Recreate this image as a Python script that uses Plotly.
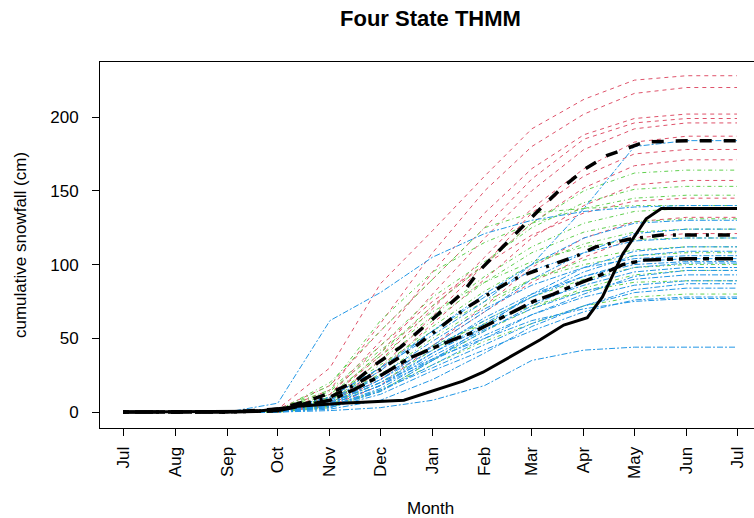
import plotly.graph_objects as go

# ---- data ----
month_labels = ["Jul", "Aug", "Sep", "Oct", "Nov", "Dec", "Jan", "Feb", "Mar", "Apr", "May", "Jun", "Jul"]
month_days = [0, 31, 62, 92, 123, 153, 184, 215, 243, 274, 304, 335, 365]

# simulated paths, values at month_days (cm)
red_paths = [
    [0, 0, 0, 2, 30, 87, 123, 160, 192, 212, 225, 228, 228],
    [0, 0, 0, 1, 15, 60, 108, 150, 180, 202, 216, 220, 220],
    [0, 0, 0, 1, 12, 48, 95, 135, 165, 188, 199, 202, 202],
    [0, 0, 0, 2, 18, 55, 90, 125, 158, 185, 196, 199, 199],
    [0, 0, 0, 1, 10, 40, 80, 118, 150, 178, 192, 196, 196],
    [0, 0, 0, 1, 8, 35, 70, 105, 138, 165, 183, 187, 187],
    [0, 0, 0, 1, 10, 38, 72, 100, 128, 152, 167, 171, 171],
    [0, 0, 0, 0, 6, 28, 60, 90, 118, 140, 154, 157, 157],
    [0, 0, 0, 0, 5, 22, 45, 68, 88, 105, 118, 121, 121],
    [0, 0, 0, 1, 12, 45, 75, 100, 120, 135, 143, 145, 145],
    [0, 0, 0, 0, 4, 18, 45, 72, 98, 118, 129, 132, 132],
    [0, 0, 0, 1, 6, 30, 65, 100, 135, 160, 175, 178, 178],
]
green_paths = [
    [0, 0, 0, 1, 10, 40, 72, 100, 128, 150, 162, 164, 164],
    [0, 0, 0, 2, 15, 45, 78, 102, 125, 142, 151, 153, 153],
    [0, 0, 0, 1, 18, 62, 95, 115, 128, 138, 145, 147, 147],
    [0, 0, 0, 1, 20, 55, 90, 125, 135, 138, 140, 140, 140],
    [0, 0, 0, 1, 8, 30, 58, 82, 100, 114, 122, 124, 124],
    [0, 0, 0, 0, 6, 25, 50, 72, 90, 103, 110, 112, 112],
    [0, 0, 0, 1, 10, 32, 55, 75, 90, 100, 106, 108, 108],
    [0, 0, 0, 0, 5, 20, 42, 62, 78, 90, 98, 100, 100],
    [0, 0, 0, 1, 8, 26, 45, 60, 72, 82, 88, 89, 89],
    [0, 0, 0, 0, 4, 15, 32, 48, 60, 72, 78, 80, 80],
    [0, 0, 0, 1, 12, 38, 65, 92, 112, 128, 136, 138, 138],
    [0, 0, 0, 1, 14, 42, 68, 88, 102, 112, 117, 118, 118],
    [0, 0, 0, 0, 3, 14, 35, 55, 70, 84, 93, 96, 96],
    [0, 0, 0, 1, 9, 35, 62, 88, 108, 122, 129, 131, 131],
]
blue_paths = [
    [0, 0, 0, 6, 62, 81, 105, 121, 130, 136, 139, 140, 140],
    [0, 0, 0, 2, 10, 30, 52, 75, 100, 138, 180, 184, 184],
    [0, 0, 0, 1, 8, 28, 55, 80, 100, 118, 128, 130, 130],
    [0, 0, 0, 1, 6, 22, 45, 68, 90, 108, 121, 124, 124],
    [0, 0, 0, 0, 5, 18, 40, 60, 78, 95, 106, 109, 109],
    [0, 0, 0, 1, 7, 24, 44, 62, 78, 92, 102, 104, 104],
    [0, 0, 0, 0, 4, 16, 36, 55, 72, 88, 98, 101, 101],
    [0, 0, 0, 1, 6, 20, 40, 58, 74, 86, 95, 98, 98],
    [0, 0, 0, 0, 3, 14, 32, 50, 66, 80, 92, 96, 96],
    [0, 0, 0, 1, 5, 18, 35, 52, 66, 78, 86, 89, 89],
    [0, 0, 0, 0, 4, 15, 30, 46, 60, 72, 81, 84, 84],
    [0, 0, 0, 0, 3, 12, 28, 42, 55, 68, 76, 78, 78],
    [0, 0, 0, 1, 6, 20, 36, 50, 62, 70, 75, 77, 77],
    [0, 0, 0, 0, 1, 3, 8, 18, 35, 42, 44, 44, 44],
    [0, 0, 0, 1, 10, 30, 55, 78, 96, 108, 116, 118, 118],
    [0, 0, 0, 1, 8, 25, 48, 70, 86, 98, 104, 106, 106],
    [0, 0, 0, 0, 5, 18, 38, 56, 70, 82, 90, 93, 93],
    [0, 0, 0, 1, 6, 22, 42, 64, 80, 92, 100, 102, 102],
    [0, 0, 0, 0, 2, 8, 22, 40, 58, 72, 83, 87, 87],
    [0, 0, 0, 1, 4, 14, 35, 58, 80, 98, 109, 112, 112],
]

# observed season (solid black)
obs_days = [0, 62, 80, 104, 130, 167, 188, 202, 214, 234, 248, 262, 276, 285, 297, 311, 320, 365]
obs_vals = [0, 0, 0.5, 4, 6, 8, 16, 21, 27, 40, 49, 59, 64, 78, 107, 131, 138, 138]

# state means
red_mean_days = [0, 62, 92, 111, 123, 137, 151, 165, 178, 190, 202, 212, 225, 237, 249, 261, 275, 288, 310, 335, 365]
red_mean_vals = [0, 0, 2, 8, 13, 20, 33, 44, 57, 69, 81, 96, 111, 125, 139, 152, 165, 174, 183, 184, 184]
green_mean_days = [0, 62, 92, 123, 137, 152, 171, 188, 196, 206, 226, 236, 248, 270, 281, 300, 320, 365]
green_mean_vals = [0, 0, 1, 10, 18, 28, 42, 57, 64, 72, 86, 92, 97, 106, 112, 117, 120, 120]
blue_mean_days = [0, 62, 92, 123, 137, 152, 171, 188, 196, 208, 220, 232, 244, 256, 268, 284, 297, 310, 335, 365]
blue_mean_vals = [0, 0, 1, 8, 15, 24, 37, 45, 49, 54, 61, 68, 75, 80, 86, 93, 100, 103, 104, 104]

y_ticks = [0, 50, 100, 150, 200]

# ---- styles ----
RED, GREEN, BLUE = "#DF536B", "#61D04F", "#2297E6"
FONT = "Liberation Sans, Arial, Helvetica, sans-serif"

fig = go.Figure()

def add_group(paths, color, dash):
    for p in paths:
        fig.add_trace(go.Scatter(x=month_days, y=p, mode="lines",
                                 line=dict(color=color, width=1, dash=dash),
                                 hoverinfo="skip", showlegend=False))

add_group(red_paths, RED, "4px,4px")
add_group(green_paths, GREEN, "1px,3px,4px,3px")
add_group(blue_paths, BLUE, "2px,2px,6px,2px")

fig.add_trace(go.Scatter(x=obs_days, y=obs_vals, mode="lines",
                         line=dict(color="black", width=3), showlegend=False))
fig.add_trace(go.Scatter(x=red_mean_days, y=red_mean_vals, mode="lines",
                         line=dict(color="black", width=3.5, dash="12px,12px"), showlegend=False))
fig.add_trace(go.Scatter(x=green_mean_days, y=green_mean_vals, mode="lines",
                         line=dict(color="black", width=3.5, dash="3px,9px,12px,9px"), showlegend=False))
fig.add_trace(go.Scatter(x=blue_mean_days, y=blue_mean_vals, mode="lines",
                         line=dict(color="black", width=3.5, dash="6px,6px,18px,6px"), showlegend=False))

L, T, W, H = 100, 62, 754, 518
B = H - 428
plot_w = W - L
plot_h = H - T - B

fig.update_layout(
    width=W, height=H,
    margin=dict(l=L, r=0, t=T, b=B, pad=0),
    paper_bgcolor="white", plot_bgcolor="white",
    font=dict(family=FONT, size=17, color="black"),
    showlegend=False,
    xaxis=dict(range=[-13.7, 375.1], tickmode="array", tickvals=month_days, ticktext=month_labels,
               tickangle=-90, ticks="outside", ticklen=7, tickwidth=1, tickcolor="black",
               showline=True, linecolor="black", linewidth=1, mirror=True,
               showgrid=False, zeroline=False, ticklabelstandoff=4,
               tickfont=dict(size=17)),
    yaxis=dict(range=[-10.8, 237.3], tickmode="array", tickvals=y_ticks,
               ticks="outside", ticklen=7, tickwidth=1, tickcolor="black",
               showline=True, linecolor="black", linewidth=1, mirror=False,
               showgrid=False, zeroline=False, ticklabelstandoff=10,
               tickfont=dict(size=17)),
    annotations=[
        dict(text="<b>Four State THMM</b>", xref="paper", yref="paper",
             x=(430 - L) / plot_w, y=(428 - 18) / plot_h, xanchor="center", yanchor="middle",
             showarrow=False, font=dict(size=22, family=FONT)),
        dict(text="cumulative snowfall (cm)", xref="paper", yref="paper",
             x=(20 - L) / plot_w, y=0.5, xanchor="center", yanchor="middle", textangle=-90,
             showarrow=False, font=dict(size=17, family=FONT)),
        dict(text="Month", xref="paper", yref="paper",
             x=(430 - L) / plot_w, y=(428 - 508) / plot_h, xanchor="center", yanchor="middle",
             showarrow=False, font=dict(size=17, family=FONT)),
    ],
)

fig.write_html("out.html")
